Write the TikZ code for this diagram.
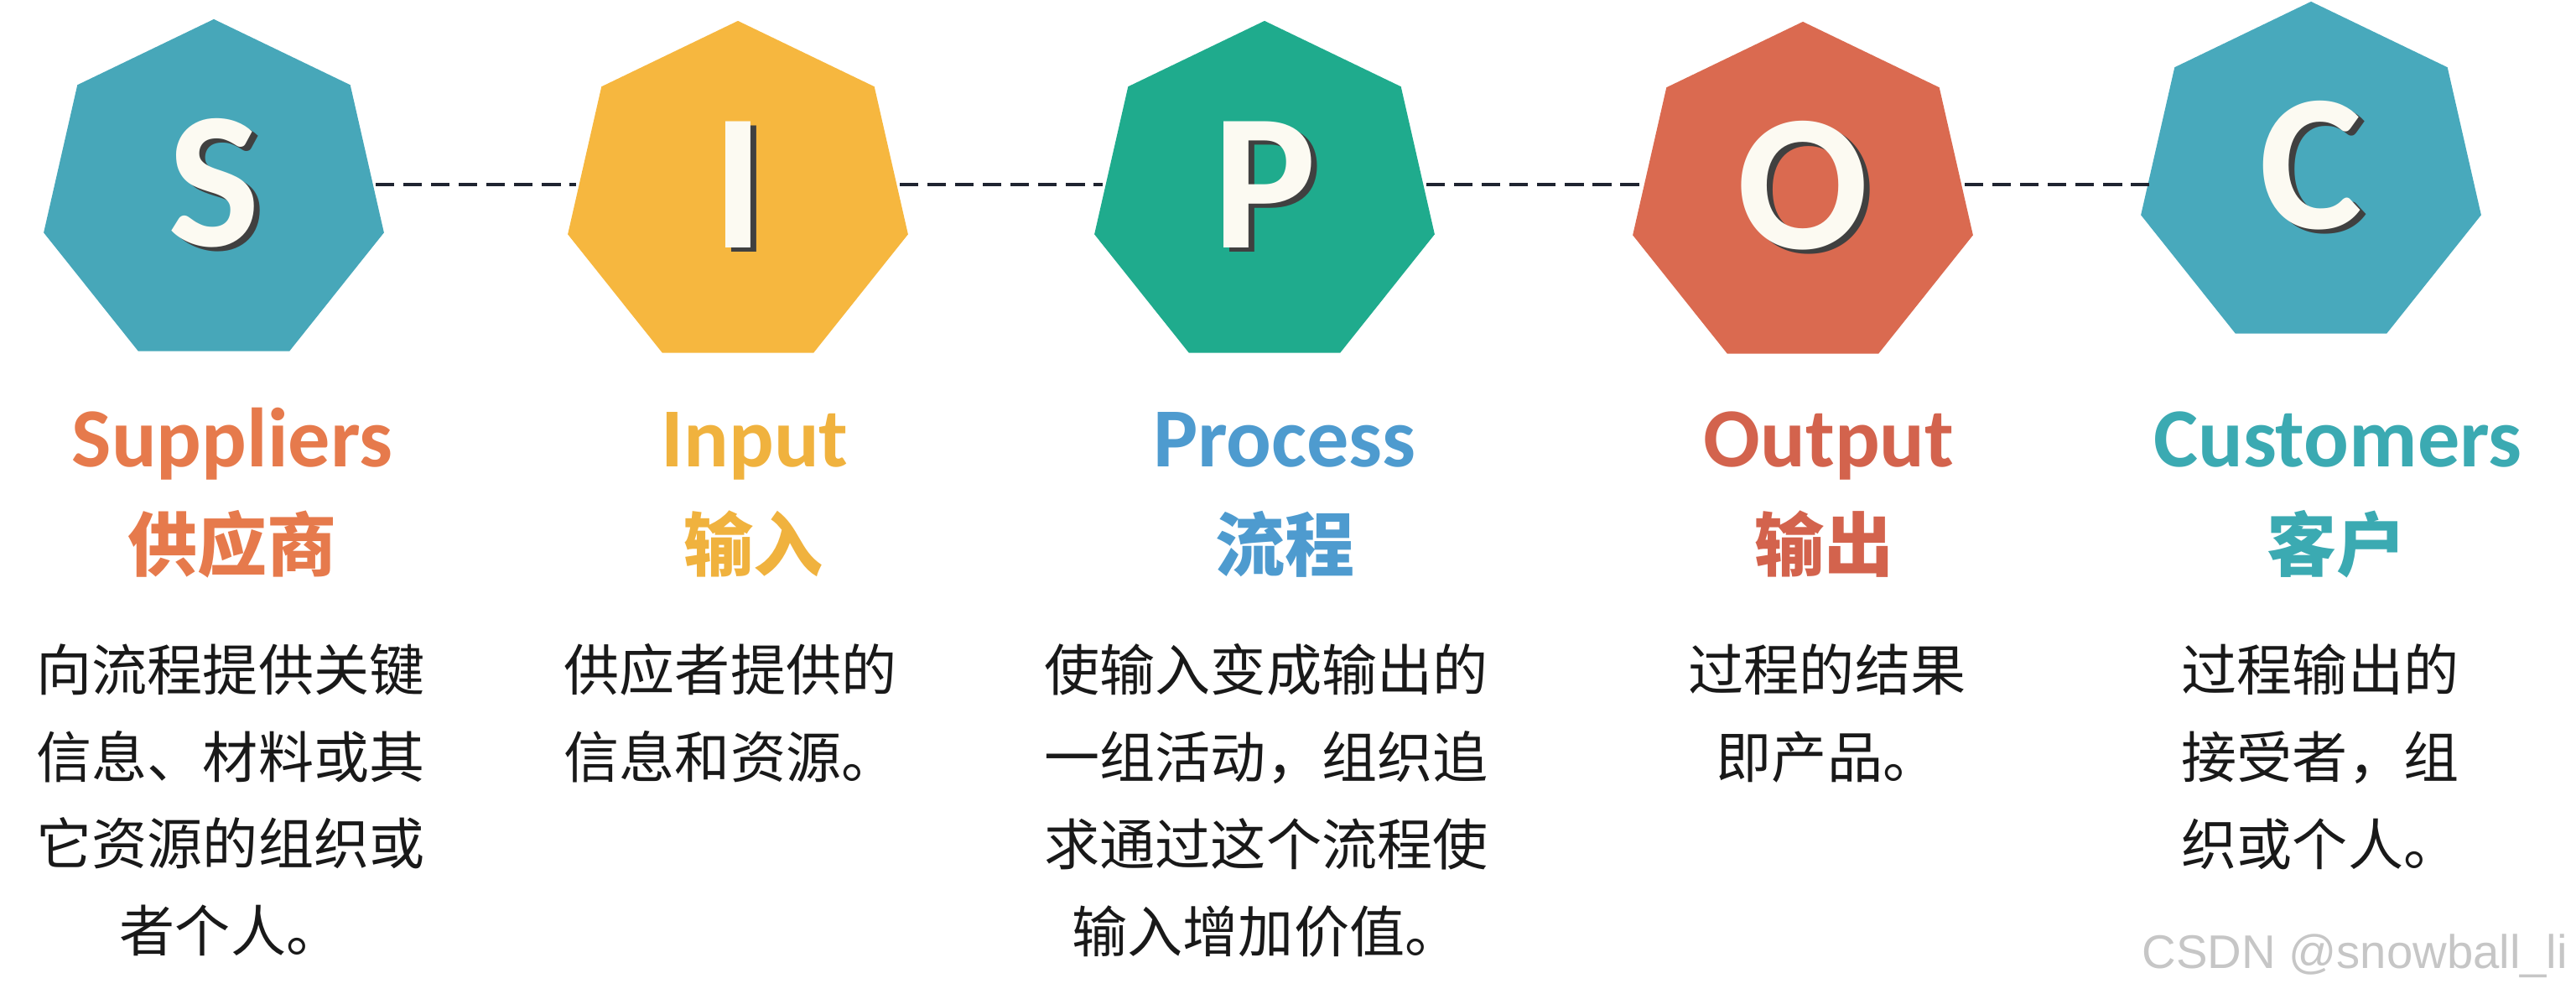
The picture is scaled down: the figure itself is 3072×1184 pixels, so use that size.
\documentclass[tikz,border=0pt]{standalone}
\usepackage{fontspec}
\usepackage{xcolor}
\usetikzlibrary{shapes.geometric, positioning}

\setmainfont{Carlito}
\newfontfamily\cjk{Noto Sans CJK SC}
\newfontfamily\markfont{Liberation Sans}

\definecolor{suppteal}{HTML}{47A7B9}
\definecolor{inputamber}{HTML}{F6B73F}
\definecolor{procgreen}{HTML}{1FAB8D}
\definecolor{outcoral}{HTML}{DA6A50}
\definecolor{custteal}{HTML}{48A9BC}
\definecolor{titleorange}{HTML}{E67A4C}
\definecolor{titlegold}{HTML}{F0B23E}
\definecolor{titleblue}{HTML}{4E9BCF}
\definecolor{titlered}{HTML}{D3634D}
\definecolor{titleteal}{HTML}{3BAAB2}
\definecolor{linkdark}{HTML}{1F2430}
\definecolor{lettercream}{HTML}{FCFAF2}
\definecolor{markgray}{HTML}{C6C6C6}

\newcommand{\shadowletter}[1]{\makebox[0pt][l]{\hspace{0.03em}\raisebox{-0.025em}{\textcolor{black!75}{#1}}}\textcolor{lettercream}{#1}}

\begin{document}
\begin{tikzpicture}[
    x=0.01cm, y=-0.01cm,
    hept/.style={regular polygon, regular polygon sides=7, minimum size=4.16cm, inner sep=0pt,
      text height=1.5cm, text depth=0.26cm, font=\bfseries\fontsize{66}{70}\selectfont},
    headline/.style={anchor=base, inner sep=0pt, font=\bfseries\fontsize{28.5}{30}\selectfont},
    cnhead/.style={anchor=base, inner sep=0pt, font=\cjk\bfseries\fontsize{23.6}{26}\selectfont},
    body/.style={anchor=north, inner sep=0pt, align=center, text=black!90,
      font=\cjk\fontsize{18.8}{29.5}\selectfont},
    link/.style={draw=linkdark, line width=1.2pt, dash pattern=on 6.3pt off 3.1pt}
  ]
    \useasboundingbox (0,0) rectangle (3072,1184);
    \coordinate (axis) at (0,220);

    % Row 1: the five letters
    \node[hept, fill=suppteal] (S) at (255,231) {\shadowletter{S}};
    \node[hept, fill=inputamber] (I) at (880,233) {\shadowletter{I}};
    \node[hept, fill=procgreen] (P) at (1508,233) {\shadowletter{P}};
    \node[hept, fill=outcoral] (O) at (2150,234) {\shadowletter{O}};
    \node[hept, fill=custteal] (C) at (2756,210) {\shadowletter{C}};

    % dashed chain between the letters
    \draw[link] (S.east |- axis) -- (I.west |- axis);
    \draw[link] (I.east |- axis) -- (P.west |- axis);
    \draw[link] (P.east |- axis) -- (O.west |- axis);
    \draw[link] (O.east |- axis) -- (C.west |- axis);

    % Row 2: titles
    \node[headline, text=titleorange] (sHead) at (277,556) {Suppliers};
    \node[headline, text=titlegold] (iHead) at (900,556) {Input};
    \node[headline, text=titleblue] (pHead) at (1532,556) {Process};
    \node[headline, text=titlered] (oHead) at (2181,556) {Output};
    \node[headline, text=titleteal] (cHead) at (2788,556) {Customers};

    \node[cnhead, text=titleorange] (sCn) at (277,680) {供应商};
    \node[cnhead, text=titlegold] (iCn) at (898,680) {输入};
    \node[cnhead, text=titleblue] (pCn) at (1532,680) {流程};
    \node[cnhead, text=titlered] (oCn) at (2175,680) {输出};
    \node[cnhead, text=titleteal] (cCn) at (2786,680) {客户};

    % Row 3: descriptions
    \node[body] (sText) at (275,767) {向流程提供关键\\信息、材料或其\\它资源的组织或\\者个人。};
    \node[body] (iText) at (871,767) {供应者提供的\\信息和资源。};
    \node[body] (pText) at (1510,767) {使输入变成输出的\\一组活动，组织追\\求通过这个流程使\\输入增加价值。};
    \node[body] (oText) at (2179,767) {过程的结果\\即产品。};
    \node[body] (cText) at (2767,767) {过程输出的\\接受者，组\\织或个人。};

    \node[anchor=base west, inner sep=0pt, text=markgray, font=\markfont\fontsize{16}{18}\selectfont]
      (mark) at (2554,1154) {CSDN @snowball\_li};
  \end{tikzpicture}
\end{document}
